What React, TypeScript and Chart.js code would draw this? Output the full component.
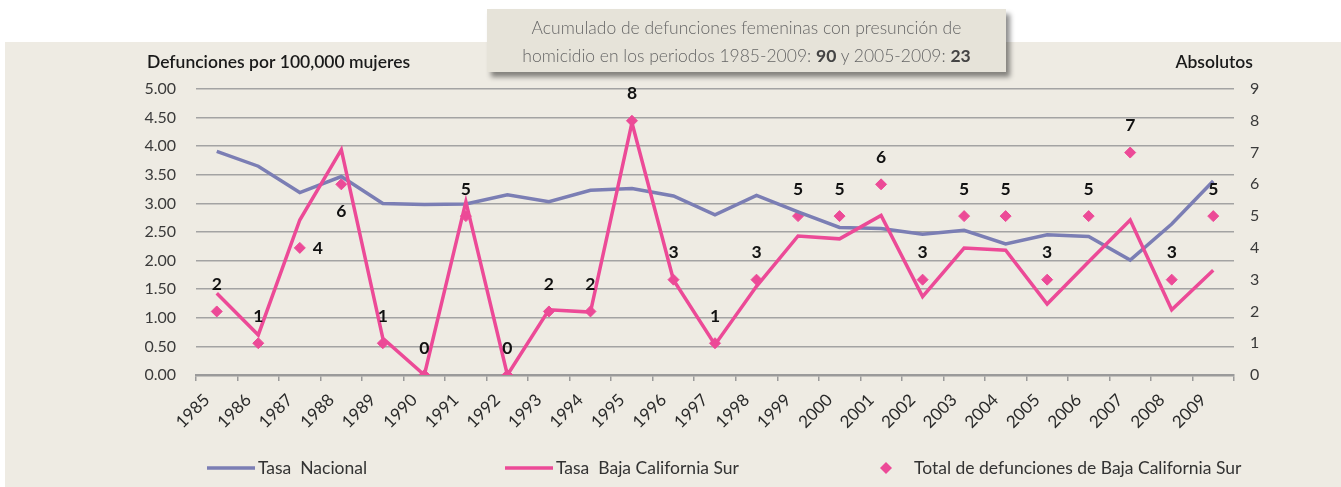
import React, { useEffect, useRef } from "react";
import { Chart, registerables } from "chart.js";

Chart.register(...registerables);

const years = ["1985","1986","1987","1988","1989","1990","1991","1992","1993","1994","1995","1996","1997","1998","1999","2000","2001","2002","2003","2004","2005","2006","2007","2008","2009"];
const tasaNacional = [3.91,3.65,3.19,3.47,3.0,2.98,2.99,3.15,3.03,3.23,3.26,3.13,2.8,3.14,2.85,2.58,2.56,2.46,2.53,2.29,2.45,2.42,2.01,2.64,3.39];
const tasaBCS = [1.43,0.7,2.71,3.94,0.64,0,3.03,0,1.14,1.1,4.41,1.66,0.53,1.55,2.43,2.38,2.79,1.37,2.22,2.18,1.24,1.98,2.71,1.14,1.83];
const totalBCS = [2,1,4,6,1,0,5,0,2,2,8,3,1,3,5,5,6,3,5,5,3,5,7,3,5];

const legendLabels = ["Tasa  Nacional", "Tasa  Baja California Sur", "Total de defunciones de Baja California Sur"];
const leftTitle = "Defunciones por 100,000 mujeres";
const rightTitle = "Absolutos";

// label placement overrides (style only)
const labelPlacement: Record<string, "above" | "below" | "right"> = { "1987": "right", "1988": "below" };

const BLUE = "#7B7EB4";
const PINK = "#EC4A97";
const FONT = "Lato, 'Open Sans', sans-serif";

const overlayPlugin = {
  id: "overlay",
  afterDatasetsDraw(chart: any) {
    const ctx = chart.ctx;
    const meta = chart.getDatasetMeta(2);
    ctx.save();
    ctx.font = `bold 17.5px ${FONT}`;
    ctx.fillStyle = "#111";
    ctx.textBaseline = "middle";
    ctx.textAlign = "center";
    meta.data.forEach((pt: any, i: number) => {
      const place = labelPlacement[years[i]] || "above";
      let x = pt.x;
      let y = pt.y;
      if (place === "above") y -= 27;
      else if (place === "below") y += 27;
      else x += 18;
      ctx.fillText(String(totalBCS[i]), x, y);
    });
    ctx.restore();
  },
  afterDraw(chart: any) {
    const ctx = chart.ctx;
    const area = chart.chartArea;
    ctx.save();
    // axis titles
    ctx.fillStyle = "#1a1a1a";
    ctx.font = `600 17.5px ${FONT}`;
    ctx.textBaseline = "middle";
    ctx.textAlign = "left";
    ctx.fillText(leftTitle, 147, 62);
    ctx.textAlign = "right";
    ctx.fillText(rightTitle, 1253, 62);

    // legend
    const y = 468;
    ctx.font = `17.5px ${FONT}`;
    ctx.textAlign = "left";
    const x1 = area.left + 11;
    const x2 = area.left + 309;
    const x3 = area.left + 684;
    ctx.lineWidth = 3.5;
    // item 1
    ctx.strokeStyle = BLUE;
    ctx.beginPath();
    ctx.moveTo(x1, y);
    ctx.lineTo(x1 + 48, y);
    ctx.stroke();
    ctx.fillStyle = "#333";
    ctx.fillText(legendLabels[0], x1 + 51, y);
    // item 2
    ctx.strokeStyle = PINK;
    ctx.beginPath();
    ctx.moveTo(x2, y);
    ctx.lineTo(x2 + 48, y);
    ctx.stroke();
    ctx.fillText(legendLabels[1], x2 + 51, y);
    // item 3
    ctx.fillStyle = PINK;
    ctx.beginPath();
    ctx.moveTo(x3 + 6, y - 6);
    ctx.lineTo(x3 + 12, y);
    ctx.lineTo(x3 + 6, y + 6);
    ctx.lineTo(x3, y);
    ctx.closePath();
    ctx.fill();
    ctx.fillStyle = "#333";
    ctx.fillText(legendLabels[2], x3 + 34, y);
    ctx.restore();
  },
};

export default function App() {
  const ref = useRef<HTMLCanvasElement | null>(null);
  useEffect(() => {
    if (!ref.current) return;
    const tickFont = { family: FONT, size: 16 };
    const chart = new Chart(ref.current, {
      type: "line",
      data: {
        labels: years,
        datasets: [
          {
            label: legendLabels[0],
            data: tasaNacional,
            borderColor: BLUE,
            backgroundColor: BLUE,
            borderWidth: 3.5,
            pointRadius: 0,
            tension: 0,
            yAxisID: "y",
            order: 2,
          },
          {
            label: legendLabels[1],
            data: tasaBCS,
            borderColor: PINK,
            backgroundColor: PINK,
            borderWidth: 3.5,
            pointRadius: 0,
            tension: 0,
            yAxisID: "y",
            order: 1,
          },
          {
            label: legendLabels[2],
            data: totalBCS,
            showLine: false,
            pointStyle: "rectRot",
            pointRadius: 5.5,
            pointBackgroundColor: PINK,
            pointBorderColor: PINK,
            borderColor: PINK,
            backgroundColor: PINK,
            yAxisID: "y1",
            order: 3,
          },
        ],
      },
      options: {
        responsive: false,
        animation: false,
        layout: { padding: { top: 89, left: 0, right: 0, bottom: 0 } },
        plugins: { legend: { display: false }, tooltip: { enabled: false }, title: { display: false } },
        scales: {
          x: {
            type: "category",
            offset: true,
            grid: { display: true, drawOnChartArea: false, drawTicks: true, tickLength: 6, color: "#9a9a9a", lineWidth: 1.5, offset: true },
            border: { display: true, color: "#9a9a9a", width: 2.5 },
            ticks: { minRotation: 45, maxRotation: 45, autoSkip: false, color: "#2a2a2a", font: { family: FONT, size: 17 }, padding: 9, labelOffset: -10 },
            afterFit: (s: any) => { s.height = 112; },
          },
          y: {
            position: "left",
            min: 0,
            max: 5,
            ticks: { stepSize: 0.5, padding: 20, color: "#3a3a3a", font: tickFont, callback: (v: any) => Number(v).toFixed(2) },
            grid: { color: "#a3a3a3", lineWidth: 1.5, drawTicks: false },
            border: { display: false },
            afterFit: (s: any) => { s.width = 196; },
          },
          y1: {
            position: "right",
            min: 0,
            max: 9,
            ticks: { stepSize: 1, padding: 16, color: "#3a3a3a", font: tickFont },
            grid: { display: false, drawTicks: false },
            border: { display: false },
            afterFit: (s: any) => { s.width = 107; },
          },
        },
      },
      plugins: [overlayPlugin],
    } as any);
    return () => chart.destroy();
  }, []);

  return (
    <div style={{ position: "absolute", left: 0, top: 0, width: 1341, height: 487, background: "#ffffff", overflow: "hidden", fontFamily: FONT }}>
      <div style={{ position: "absolute", left: 5, top: 42, width: 1336, height: 445, background: "#EEEBE3" }} />
      <canvas ref={ref} width={1341} height={487} style={{ position: "absolute", left: 0, top: 0, width: 1341, height: 487 }} />
      <div
        style={{
          position: "absolute",
          left: 487,
          top: 9,
          width: 519,
          height: 63,
          background: "#E6E3D9",
          boxShadow: "4px 5px 5px rgba(0,0,0,0.45)",
          color: "#666",
          fontSize: 17.5,
          fontWeight: 300,
          lineHeight: "28px",
          textAlign: "center",
          paddingTop: 5,
          boxSizing: "border-box",
          whiteSpace: "nowrap",
        }}
      >
        Acumulado de defunciones femeninas con presunción de
        <br />
        homicidio en los periodos 1985-2009: <b style={{ color: "#444", fontWeight: 700 }}>90</b> y 2005-2009: <b style={{ color: "#444", fontWeight: 700 }}>23</b>
      </div>
    </div>
  );
}
